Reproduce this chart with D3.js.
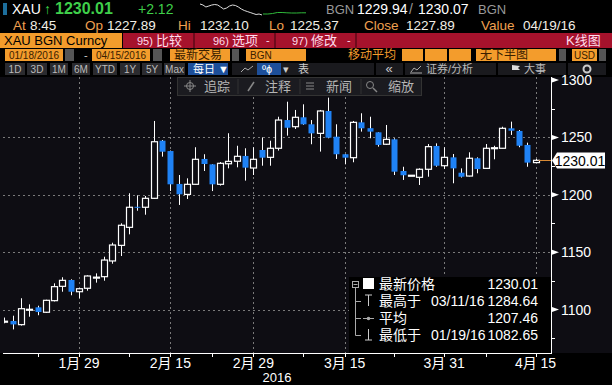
<!DOCTYPE html>
<html>
<head>
<meta charset="utf-8">
<script src="https://cdn.jsdelivr.net/npm/d3@7"></script>
<style>
body { margin:0; background:#000; }
svg { display:block; }
text { font-family: "Liberation Sans", Arial, "Noto Sans CJK SC", sans-serif; }
</style>
</head>
<body>
<div id="chart"></div>
<script>
var width = 612, height = 385;

// trading days shown (weekdays 01/18/16 - 04/15/16)
var dates = ["01/18","01/19","01/20","01/21","01/22","01/25","01/26","01/27","01/28","01/29",
  "02/01","02/02","02/03","02/04","02/05","02/08","02/09","02/10","02/11","02/12",
  "02/15","02/16","02/17","02/18","02/19","02/22","02/23","02/24","02/25","02/26",
  "02/29","03/01","03/02","03/03","03/04","03/07","03/08","03/09","03/10","03/11",
  "03/14","03/15","03/16","03/17","03/18","03/21","03/22","03/23","03/24","03/25",
  "03/28","03/29","03/30","03/31","04/01","04/04","04/05","04/06","04/07","04/08",
  "04/11","04/12","04/13","04/14","04/15"];
var open = [1089.5,1090,1086.8,1100.2,1101.9,1097.6,1107.7,1120.2,1125.7,1115.5,
  1118.5,1128,1128.6,1142.3,1155.9,1171.6,1189.5,1189.1,1196.9,1247.1,
  1238.1,1209.4,1200.3,1209.1,1231.2,1226.5,1209.1,1227,1229.2,1233.8,
  1223.3,1239,1232.6,1240.5,1265.1,1259.3,1267.5,1261.4,1253.5,1273,
  1250.6,1235.3,1232.3,1263.1,1258,1254.4,1244,1248.3,1220.7,1217,
  1215.2,1222.2,1242.5,1225.3,1232.6,1219.2,1216.3,1231.8,1223,1241,
  1240.5,1257.9,1255.6,1243.4,1228];
var high = [1093,1094.6,1109.8,1104.5,1103.3,1108.5,1122.8,1128.1,1126.3,1118.5,
  1129.8,1131.5,1146,1158.2,1175.1,1201.3,1199.5,1198.9,1264.3,1247.7,
  1238.5,1217.2,1214.3,1241.4,1235.3,1226.6,1228.5,1253.6,1242.7,1240.5,
  1241.4,1250,1247.1,1268,1281.1,1273.9,1278.8,1265.1,1273.9,1284.64,
  1261.4,1235.5,1264.3,1271,1268,1254.5,1260.8,1249.2,1224.4,1217,
  1223,1244.2,1244.8,1241.4,1235.5,1223,1237,1232.6,1244.2,1242.7,
  1259.3,1263.7,1256.4,1245.4,1231.2];
var low = [1088,1082.65,1086,1093.7,1095,1097,1107,1115.5,1112.4,1109.8,
  1116.4,1123.4,1125.1,1139.9,1146.6,1165.5,1186.1,1182.6,1196.5,1233.2,
  1203.3,1191.1,1196.3,1209,1220.7,1203.2,1208,1223,1223.9,1212.3,
  1217.2,1225.3,1225.3,1238.5,1251.5,1257.3,1261,1244,1237.6,1249.2,
  1231.2,1226.5,1228.3,1255,1249.2,1241.9,1243.4,1217.2,1212.9,1217,
  1208.5,1215.7,1224.4,1222.4,1210,1215,1216,1218.7,1223,1230.9,
  1240.5,1252.1,1241.4,1224.4,1228];
var close = [1089.8,1087,1100.7,1100.2,1097.8,1108,1119.9,1125.4,1115.5,1118.1,
  1129.2,1128.2,1143.1,1156.2,1173.4,1189.1,1189,1196.9,1246.2,1237.5,
  1209.1,1200.4,1209.1,1230.9,1226.8,1209.1,1227.4,1229.1,1233.5,1223.6,
  1230.9,1232.3,1240.5,1265.1,1258.4,1267.5,1261.4,1253.5,1273,1249.7,
  1235.3,1232.3,1263.1,1257.9,1255,1243.4,1248.3,1220.1,1217,1217,
  1222.2,1241.9,1225.3,1232.6,1223,1215.7,1231.8,1222.4,1240.5,1241,
  1257.9,1255.8,1242.7,1228,1230.01];

var yTicks = [1100, 1150, 1200, 1250, 1300];
var yMinor = [1075, 1125, 1175, 1225, 1275];
var xTickDates = ["01/29","02/15","02/29","03/15","03/31","04/15"];
var xTickLabels = ["1月 29","2月 15","2月 29","3月 15","3月 31","4月 15"];
var xMinorDates = ["01/22","02/08","02/22","03/08","03/23","04/07"];

var lastPrice = 1230.01;
var legendRows = [
  {icon:"box",  name:"最新价格", date:"", value:"1230.01"},
  {icon:"high", name:"最高于", date:"03/11/16", value:"1284.64"},
  {icon:"avg",  name:"平均", date:"", value:"1207.46"},
  {icon:"low",  name:"最低于", date:"01/19/16", value:"1082.65"}
];
var sparkWhite = [4,5,7,6,5,4.5,5,7,9,8,6,5,5.5,7,9,10.5,11.5,12.5,13.5,14.5,14,15];
var sparkGreen = [14,14,13.5,12.5,12.5,12.8,13,13,12.8,12.8];

var orange = "#f39c2c", red = "#a6122c", blue = "#1f82f5";

var svg = d3.select("#chart").append("svg")
  .attr("width", width).attr("height", height);

svg.append("rect").attr("width", width).attr("height", height).attr("fill", "#000");

function txt(x, y, s, opts) {
  opts = opts || {};
  return svg.append("text").attr("x", x).attr("y", y).text(s)
    .attr("fill", opts.fill || "#fff")
    .attr("font-size", opts.size || 14)
    .attr("font-weight", opts.weight || "normal")
    .attr("text-anchor", opts.anchor || "start");
}

// ---- header row 1
svg.append("rect").attr("x", 3).attr("y", 3).attr("width", 4).attr("height", 12).attr("fill", "#1d6e9c");
txt(12, 14, "XAU", {size:14});
txt(44, 14, "↑", {fill:"#3fcf4a", size:14});
txt(55, 14, "1230.01", {fill:"#3fcf4a", size:16, weight:"bold"});
txt(138, 14, "+2.12", {fill:"#3fcf4a", size:14});

var sx1 = d3.scaleLinear().domain([0, sparkWhite.length - 1]).range([200, 262]);
var sx2 = d3.scaleLinear().domain([0, sparkGreen.length - 1]).range([263, 306]);
svg.append("path").datum(sparkWhite)
  .attr("d", d3.line().x(function(d, i) { return sx1(i); }).y(function(d) { return d; }))
  .attr("fill", "none").attr("stroke", "#ddd").attr("stroke-width", 1);
svg.append("path").datum(sparkGreen)
  .attr("d", d3.line().x(function(d, i) { return sx2(i); }).y(function(d) { return d; }))
  .attr("fill", "none").attr("stroke", "#2fb83a").attr("stroke-width", 1);

txt(326, 14, "BGN", {fill:"#999", size:13});
txt(357, 14, "1229.94", {size:14});
txt(409, 14, "/", {fill:"#999", size:14});
txt(418, 14, "1230.07", {size:14});
txt(478, 14, "BGN", {fill:"#999", size:13});

// ---- header row 2
var row2 = [["At",13,"8:45",30],["Op",85,"1227.89",107],["Hi",178,"1232.10",200],
  ["Lo",269,"1225.37",290],["Close",364,"1227.89",406],["Value",481,"04/19/16",523]];
row2.forEach(function(r) {
  txt(r[1], 30, r[0], {fill:"#f0a050", size:13.5});
  txt(r[3], 30, r[2], {fill:"#f2efe6", size:13.5});
});

// ---- header row 3 (orange + red bar)
svg.append("rect").attr("x", 0).attr("y", 33).attr("width", 122).attr("height", 15).attr("fill", orange);
txt(4, 45, "XAU BGN Curncy", {fill:"#000", size:13});
svg.append("rect").attr("x", 123).attr("y", 33).attr("width", 489).attr("height", 15).attr("fill", red);
[193, 274, 355].forEach(function(x) {
  svg.append("rect").attr("x", x).attr("y", 33).attr("width", 2).attr("height", 15).attr("fill", "#6e0a1c");
});
txt(137, 45, "95)", {fill:"#fde", size:11});
txt(156, 45, "比较", {fill:"#fde", size:13});
txt(213, 45, "96)", {fill:"#fde", size:11});
txt(232, 45, "选项", {fill:"#fde", size:13});
txt(266, 44, "-", {fill:"#fde", size:11});
txt(292, 45, "97)", {fill:"#fde", size:11});
txt(311, 45, "修改", {fill:"#fde", size:13});
txt(347, 44, "-", {fill:"#fde", size:11});
txt(566, 45, "K线图", {fill:"#fde", size:13});

// ---- header row 4
function obox(x, w, s, opts) {
  svg.append("rect").attr("x", x).attr("y", 49).attr("width", w).attr("height", 12).attr("fill", orange);
  if (s) txt(x + (opts && opts.center ? w / 2 : 4), 59, s,
    {fill:"#3a2000", size:(opts && opts.size) || 10, anchor:opts && opts.center ? "middle" : "start"});
}
function gbox(x, w) {
  svg.append("rect").attr("x", x).attr("y", 49).attr("width", w).attr("height", 12).attr("fill", "#555");
}
obox(5, 58, "01/18/2016", {center:true});
gbox(65, 9);
txt(84, 59, "-", {fill:"#ccc", size:11});
obox(92, 58, "04/15/2016", {center:true});
gbox(153, 9);
obox(170, 60, "最新交易", {size:12});
gbox(232, 7);
obox(246, 60, "BGN", {size:10});
txt(348, 59, "移动平均", {fill:orange, size:12});
obox(402, 21); obox(425, 22); obox(449, 22);
obox(476, 80, "无下半图", {size:12});
gbox(559, 7);
obox(572, 25, "USD", {size:10, center:true});
gbox(599, 7);

// ---- header row 5 (buttons)
var spans = ["1D","3D","1M","6M","YTD","1Y","5Y","Max"];
var spanX = [5,27,50,72,93,120,142,164];
var spanW = [20,20,18,18,24,20,20,21];
spans.forEach(function(s, i) {
  svg.append("rect").attr("x", spanX[i]).attr("y", 63).attr("width", spanW[i]).attr("height", 12).attr("fill", "#2b2b2f");
  txt(spanX[i] + spanW[i] / 2, 73, s, {fill:"#bbb", size:10, anchor:"middle"});
});
svg.append("rect").attr("x", 188).attr("y", 63).attr("width", 40).attr("height", 12).attr("fill", "#1d4f9a");
txt(193, 73, "每日 ▼", {fill:"#fff", size:11});
svg.append("rect").attr("x", 232).attr("y", 63).attr("width", 142).attr("height", 12).attr("fill", "#1a1a1e");
svg.append("path").attr("d", "M241,72 L245,68 L248,70 L253,66").attr("fill", "none").attr("stroke", "#aaa");
svg.append("rect").attr("x", 257).attr("y", 63).attr("width", 24).attr("height", 12).attr("fill", "#1d4f9a");
txt(262, 73, "ºɸ", {fill:"#fff", size:11});
txt(283, 73, "▾", {fill:"#ccc", size:11});
txt(298, 73, "表", {fill:"#ccc", size:11});
svg.append("rect").attr("x", 376).attr("y", 63).attr("width", 27).attr("height", 12).attr("fill", "#1a1a1e");
txt(389, 73, "«", {fill:"#ccc", size:13, anchor:"middle"});
svg.append("rect").attr("x", 405).attr("y", 63).attr("width", 91).attr("height", 12).attr("fill", "#1a1a1e");
svg.append("path").attr("d", "M411,72 L414,68 L417,70 L421,66 M410,73 L422,73").attr("fill", "none").attr("stroke", "#aaa");
txt(426, 73, "证券/分析", {fill:"#bbb", size:11});
svg.append("rect").attr("x", 498).attr("y", 63).attr("width", 68).attr("height", 12).attr("fill", "#1a1a1e");
svg.append("path").attr("d", "M512,74 L512,65 L520,66 L518,68 L520,70 L512,70").attr("fill", "#ddd");
txt(524, 73, "大事", {fill:"#bbb", size:11});
svg.append("rect").attr("x", 568).attr("y", 63).attr("width", 38).attr("height", 12).attr("fill", "#1a1a1e");
svg.append("circle").attr("cx", 587).attr("cy", 69).attr("r", 3.5).attr("fill", "none").attr("stroke", "#ccc").attr("stroke-width", 2);

// ---- chart area
var plot = {left:3, right:551, top:77, bottom:353};
svg.append("rect").attr("x", 0).attr("y", plot.top).attr("width", width).attr("height", plot.bottom - plot.top)
  .attr("fill", "#0e0d13");

var x = d3.scaleLinear().domain([0, dates.length - 1]).range([4.3, 535.5]);
var y = d3.scaleLinear().domain([1100, 1300]).range([309.5, 80]);
function xi(d) { return x(dates.indexOf(d)); }

// gridlines
var grid = svg.append("g").attr("stroke", "#7a7a7a").attr("stroke-dasharray", "2,3").attr("stroke-width", 1);
yTicks.filter(function(v) { return v < 1300; }).forEach(function(v) {
  grid.append("line").attr("x1", plot.left).attr("x2", plot.right)
    .attr("y1", Math.round(y(v)) + 0.5).attr("y2", Math.round(y(v)) + 0.5);
});
xTickDates.forEach(function(d) {
  grid.append("line").attr("x1", Math.round(xi(d)) + 0.5).attr("x2", Math.round(xi(d)) + 0.5)
    .attr("y1", plot.top).attr("y2", plot.bottom);
});

svg.append("clipPath").attr("id", "clip").append("rect")
  .attr("x", plot.left + 1).attr("y", plot.top).attr("width", plot.right - plot.left - 1).attr("height", plot.bottom - plot.top);

var candles = svg.append("g").attr("clip-path", "url(#clip)")
  .selectAll("g").data(dates).enter().append("g");

candles.append("line")
  .attr("x1", function(d, i) { return Math.round(x(i)) + 0.5; })
  .attr("x2", function(d, i) { return Math.round(x(i)) + 0.5; })
  .attr("y1", function(d, i) { return y(high[i]); })
  .attr("y2", function(d, i) { return y(low[i]); })
  .attr("stroke", "#fff").attr("stroke-width", 1);

candles.append("rect")
  .attr("x", function(d, i) { return Math.round(x(i)) - 2.5; })
  .attr("width", 6)
  .attr("y", function(d, i) { return y(Math.max(open[i], close[i])); })
  .attr("height", function(d, i) { return Math.max(1, Math.abs(y(open[i]) - y(close[i]))); })
  .attr("fill", function(d, i) { return close[i] < open[i] ? blue : "#0e0d13"; })
  .attr("stroke", function(d, i) { return close[i] < open[i] ? "none" : "#fff"; })
  .attr("stroke-width", 1.2);

// toolbar overlay
var tb = svg.append("g");
tb.append("rect").attr("x", 177.5).attr("y", 77.5).attr("width", 244).attr("height", 18)
  .attr("fill", "#1b1b20").attr("stroke", "#333");
[238, 300, 361].forEach(function(sx) {
  tb.append("line").attr("x1", sx).attr("x2", sx).attr("y1", 79).attr("y2", 94).attr("stroke", "#333");
});
tb.append("circle").attr("cx", 190).attr("cy", 86).attr("r", 3.5).attr("fill", "none").attr("stroke", "#888");
tb.append("path").attr("d", "M184,86 L196,86 M190,80 L190,92").attr("stroke", "#888");
txt(204, 91, "追踪", {fill:"#b5b5b5", size:13});
tb.append("path").attr("d", "M248,91 L254,82").attr("stroke", "#888").attr("stroke-width", 1.5);
txt(265, 91, "注释", {fill:"#b5b5b5", size:13});
tb.append("path").attr("d", "M306,83 L314,83 M306,86 L314,86 M306,89 L314,89").attr("stroke", "#888");
txt(326, 91, "新闻", {fill:"#b5b5b5", size:13});
tb.append("circle").attr("cx", 370).attr("cy", 85).attr("r", 3.5).attr("fill", "none").attr("stroke", "#888");
tb.append("path").attr("d", "M373,88 L377,92").attr("stroke", "#888").attr("stroke-width", 1.5);
txt(388, 91, "缩放", {fill:"#b5b5b5", size:13});

// right axis
svg.append("line").attr("x1", plot.right + 0.5).attr("x2", plot.right + 0.5)
  .attr("y1", plot.top).attr("y2", plot.bottom).attr("stroke", "#fff");
yTicks.forEach(function(v) {
  var yy = y(v);
  svg.append("path").attr("d", "M" + (plot.right + 1) + "," + (yy - 2.5) + " L" + (plot.right + 8) + "," + yy +
    " L" + (plot.right + 1) + "," + (yy + 2.5) + "Z").attr("fill", "#fff");
  txt(561, yy + 5, v, {size:14});
});
yMinor.forEach(function(v) {
  if (y(v) < plot.top || y(v) > plot.bottom) return;
  svg.append("line").attr("x1", plot.right).attr("x2", plot.right + 4)
    .attr("y1", Math.round(y(v)) + 0.5).attr("y2", Math.round(y(v)) + 0.5).attr("stroke", "#fff");
});

// last price marker
var ly = Math.round(y(lastPrice)) + 0.5;
svg.append("line").attr("x1", x(dates.length - 1) + 3).attr("x2", plot.right)
  .attr("y1", ly).attr("y2", ly).attr("stroke", "#d98a35");
svg.append("path").attr("d", "M" + (plot.right + 1) + "," + ly + " L" + (plot.right + 6) + "," + (ly - 8) +
  " L605," + (ly - 8) + " L605," + (ly + 8) + " L" + (plot.right + 6) + "," + (ly + 8) + "Z").attr("fill", "#fff");
txt(580, ly + 5, "1230.01", {fill:"#000", size:14, anchor:"middle"});

// legend
var lg = svg.append("g");
lg.append("rect").attr("x", 349).attr("y", 277).attr("width", plot.right - 349).attr("height", plot.bottom - 277)
  .attr("fill", "#000");
var rowY = [288, 305, 322, 339];
lg.append("rect").attr("x", 352.5).attr("y", 281.5).attr("width", 6).attr("height", 6).attr("fill", "none").attr("stroke", "#aaa");
lg.append("line").attr("x1", 353.5).attr("x2", 357.5).attr("y1", 284.5).attr("y2", 284.5).attr("stroke", "#aaa");
lg.append("line").attr("x1", 355.5).attr("x2", 355.5).attr("y1", 288).attr("y2", rowY[3] - 3.5).attr("stroke", "#aaa");
legendRows.forEach(function(r, i) {
  var yy = rowY[i];
  if (i > 0) lg.append("line").attr("x1", 355.5).attr("x2", 361).attr("y1", yy - 3.5).attr("y2", yy - 3.5).attr("stroke", "#aaa");
  if (r.icon === "box") {
    lg.append("rect").attr("x", 363).attr("y", yy - 10).attr("width", 11).attr("height", 11).attr("fill", "#fff");
  } else if (r.icon === "high") {
    lg.append("path").attr("d", "M365," + (yy - 10) + " L372," + (yy - 10) + " M368.5," + (yy - 10) + " L368.5," + (yy + 1))
      .attr("stroke", "#ccc");
  } else if (r.icon === "avg") {
    lg.append("line").attr("x1", 363).attr("x2", 374).attr("y1", yy - 3.5).attr("y2", yy - 3.5).attr("stroke", "#aaa");
    lg.append("circle").attr("cx", 368.5).attr("cy", yy - 3.5).attr("r", 1.8).attr("fill", "#aaa");
  } else {
    lg.append("path").attr("d", "M368.5," + (yy - 10) + " L368.5," + (yy + 1) + " M365," + (yy + 1) + " L372," + (yy + 1))
      .attr("stroke", "#ccc");
  }
  lg.append("text").attr("x", 379).attr("y", yy + 1).text(r.name)
    .attr("fill", "#fff").attr("font-size", 14);
  if (r.date) lg.append("text").attr("x", 431).attr("y", yy + 1).text(r.date)
    .attr("fill", "#fff").attr("font-size", 14);
  lg.append("text").attr("x", 538).attr("y", yy + 1).text(r.value).attr("text-anchor", "end")
    .attr("fill", "#fff").attr("font-size", 14);
});

// bottom axis
svg.append("line").attr("x1", plot.left).attr("x2", plot.right + 1)
  .attr("y1", plot.bottom + 0.5).attr("y2", plot.bottom + 0.5).attr("stroke", "#fff");
xMinorDates.forEach(function(d) {
  svg.append("line").attr("x1", Math.round(xi(d)) + 0.5).attr("x2", Math.round(xi(d)) + 0.5)
    .attr("y1", plot.bottom).attr("y2", plot.bottom + 4).attr("stroke", "#fff");
});
xTickDates.forEach(function(d, i) {
  svg.append("line").attr("x1", Math.round(xi(d)) + 0.5).attr("x2", Math.round(xi(d)) + 0.5)
    .attr("y1", plot.bottom).attr("y2", plot.bottom + 4).attr("stroke", "#fff");
  txt(xi(d), 368, xTickLabels[i], {size:14, anchor:"middle"});
});
txt(277, 382, "2016", {size:13, anchor:"middle"});
</script>
</body>
</html>
